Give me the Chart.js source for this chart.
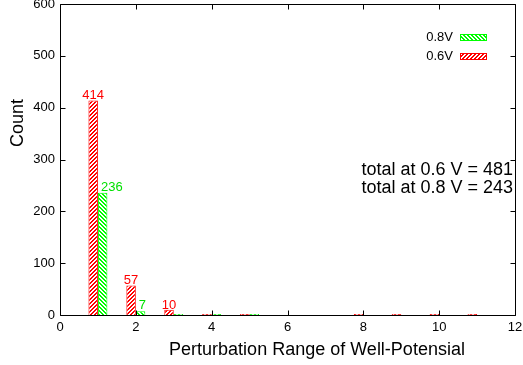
<!DOCTYPE html>
<html><head><meta charset="utf-8">
<script src="https://cdn.jsdelivr.net/npm/chart.js@4/dist/chart.umd.min.js"></script>
<style>html,body{margin:0;padding:0;background:#fff;overflow:hidden}#wrap{width:523px;height:365px}</style>
</head><body><div id="wrap"><canvas id="c" width="523" height="365"></canvas></div>
<script>
const xPositions = [1, 2, 3, 4, 5, 8, 9, 10, 11];
const series06 = [414, 57, 10, 0, 0, 0, 0, 0, 0];
const series08 = [236, 7, 0, 0, 0, null, null, null, null];
const seriesNames = ['0.6V', '0.8V'];
const xTicks = [0, 2, 4, 6, 8, 10, 12];
const yTicks = [0, 100, 200, 300, 400, 500, 600];
const totalTexts = ['total at 0.6 V = 481', 'total at 0.8 V = 243'];
const xTitle = 'Perturbation Range of Well-Potensial';
const yTitle = 'Count';

const FONT = '"Liberation Sans", Arial, Helvetica, sans-serif';
const RED = 'rgb(255,0,0)', GREEN = 'rgb(0,255,0)', GREEN_TXT = '#00e000';

const mainCtx = document.getElementById('c').getContext('2d');
function hatch(r, gr, b, dir) {
  const s = 4;
  const c = document.createElement('canvas'); c.width = s; c.height = s;
  const g = c.getContext('2d');
  const img = g.createImageData(s, s);
  for (let j = 0; j < s; j++) {
    for (let i = 0; i < s; i++) {
      const m = dir > 0 ? (i + j) % s : (i - j + s) % s;
      const on = m === 0 || m === 1;
      const k = (j * s + i) * 4;
      img.data[k] = on ? r : 255;
      img.data[k + 1] = on ? gr : 255;
      img.data[k + 2] = on ? b : 255;
      img.data[k + 3] = 255;
    }
  }
  g.putImageData(img, 0, 0);
  return mainCtx.createPattern(c, 'repeat');
}
const greenPat = hatch(0, 255, 0, -1);
const redPat = hatch(255, 0, 0, 1);

const decor = {
  id: 'decor',
  afterDatasetsDraw(chart) {
    const { ctx, chartArea: a, scales: { x, y } } = chart;
    ctx.save();
    ctx.strokeStyle = '#000'; ctx.lineWidth = 1;
    const L = Math.round(a.left) + 0.5, R = Math.round(a.right) + 0.5;
    const T = Math.round(a.top) + 0.5, B = Math.round(a.bottom) + 0.5;
    ctx.beginPath();
    ctx.rect(L, T, R - L, B - T);
    yTicks.forEach(v => {
      const p = Math.round(y.getPixelForValue(v)) + 0.5;
      ctx.moveTo(L, p); ctx.lineTo(L + 5, p);
      ctx.moveTo(R, p); ctx.lineTo(R - 5, p);
    });
    xTicks.forEach(v => {
      const p = Math.round(x.getPixelForValue(v)) + 0.5;
      ctx.moveTo(p, B); ctx.lineTo(p, B - 5);
      ctx.moveTo(p, T); ctx.lineTo(p, T + 5);
    });
    ctx.stroke();

    ctx.font = '13px ' + FONT;
    ctx.textBaseline = 'alphabetic';
    chart.data.datasets.forEach((ds, di) => {
      const meta = chart.getDatasetMeta(di);
      meta.data.forEach((el, i) => {
        const v = ds.data[i].y;
        if (!v) return;
        if (di === 0) {
          ctx.fillStyle = RED; ctx.textAlign = 'center';
          ctx.fillText(String(v), el.x, el.y - 1);
        } else {
          ctx.fillStyle = GREEN_TXT; ctx.textAlign = 'left';
          ctx.fillText(String(v), el.x - el.width / 2 + 3, el.y - 2);
        }
      });
    });

    const legendRows = [
      { name: seriesNames[1], pat: greenPat, col: GREEN, cy: 37.5 },
      { name: seriesNames[0], pat: redPat, col: RED, cy: 56.5 }
    ];
    legendRows.forEach(r => {
      ctx.fillStyle = '#000'; ctx.textAlign = 'right'; ctx.textBaseline = 'middle';
      ctx.font = '13px ' + FONT;
      ctx.fillText(r.name, 453, r.cy);
      const top = Math.round(r.cy - 3.5);
      ctx.fillStyle = r.pat;
      ctx.fillRect(460, top, 27, 7);
      ctx.strokeStyle = r.col; ctx.lineWidth = 1;
      ctx.strokeRect(460.5, top + 0.5, 26, 6);
    });

    ctx.fillStyle = '#000'; ctx.font = '18px ' + FONT;
    ctx.textAlign = 'right'; ctx.textBaseline = 'middle';
    ctx.fillText(totalTexts[0], x.getPixelForValue(11.95), y.getPixelForValue(280));
    ctx.fillText(totalTexts[1], x.getPixelForValue(11.95), y.getPixelForValue(245));

    ctx.textAlign = 'center'; ctx.textBaseline = 'alphabetic';
    ctx.fillText(xTitle, 317, 355);
    ctx.save();
    ctx.translate(23, 123);
    ctx.rotate(-Math.PI / 2);
    ctx.fillText(yTitle, 0, 0);
    ctx.restore();
    ctx.restore();
  }
};

new Chart(mainCtx, {
  type: 'bar',
  data: {
    datasets: [
      { label: seriesNames[0], data: xPositions.map((xv, i) => ({ x: xv, y: series06[i] })),
        backgroundColor: redPat, borderColor: RED, borderWidth: 1,
        categoryPercentage: 0.5, barPercentage: 1, minBarLength: 1 },
      { label: seriesNames[1], data: xPositions.map((xv, i) => ({ x: xv, y: series08[i] })),
        backgroundColor: greenPat, borderColor: GREEN, borderWidth: 1,
        categoryPercentage: 0.5, barPercentage: 1, minBarLength: 1 }
    ]
  },
  options: {
    responsive: false, animation: false, devicePixelRatio: 1,
    layout: { padding: { top: 4, right: 8, left: 0, bottom: 0 } },
    plugins: { legend: { display: false }, tooltip: { enabled: false } },
    scales: {
      x: {
        type: 'linear', min: 0, max: 12, offset: false,
        grid: { display: false, offset: false, drawTicks: false },
        border: { display: false },
        afterBuildTicks(s) { s.ticks = xTicks.map(v => ({ value: v })); },
        ticks: { padding: 5, color: '#000', font: { family: FONT, size: 13 }, maxRotation: 0, autoSkip: false },
        afterFit(s) { s.height = 50; s.paddingLeft = 0; s.paddingRight = 0; }
      },
      y: {
        min: 0, max: 600,
        grid: { display: false, drawTicks: false },
        border: { display: false },
        afterBuildTicks(s) { s.ticks = yTicks.map(v => ({ value: v })); },
        ticks: { padding: 5, color: '#000', font: { family: FONT, size: 13 } },
        afterFit(s) { s.width = 60; s.paddingTop = 0; s.paddingBottom = 0; }
      }
    }
  },
  plugins: [decor]
});
</script>
</body></html>
